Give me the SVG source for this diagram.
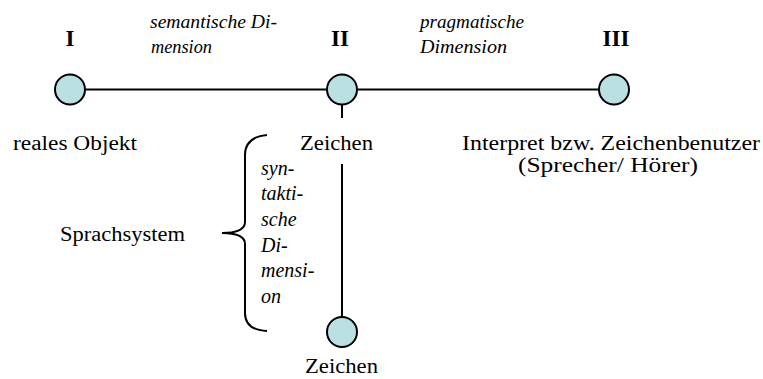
<svg xmlns="http://www.w3.org/2000/svg" width="763" height="379" viewBox="0 0 763 379">
<style>
.n{fill:#bbe0e3;stroke:#000;stroke-width:2}
.l{stroke:#000;stroke-width:2;fill:none}
text{font-family:'Liberation Serif','DejaVu Serif','Times New Roman',serif;fill:#000}
.t{font-size:20px}
.i{font-size:19px;font-style:italic}
.v{font-size:20px;font-style:italic}
.b{font-size:23px;font-weight:bold}
</style>
<rect width="763" height="379" fill="#fff"/>
<g id="connectors">
<line class="l" x1="85" y1="89.5" x2="599" y2="89.5"/>
<line class="l" x1="342" y1="104" x2="342" y2="118"/>
<line class="l" x1="342" y1="164" x2="342" y2="317"/>
<path class="l" d="M267,135 Q245,137 245,155 L245,222 Q245,233 222,233 Q245,233 245,244 L245,313 Q245,330 267,331"/>
</g>
<g id="node-I"><circle class="n" cx="70" cy="89.5" r="15"/><text class="b" x="70" y="46" text-anchor="middle">I</text><text class="t" x="13" y="150" textLength="124" lengthAdjust="spacingAndGlyphs">reales Objekt</text></g>
<g id="node-II"><circle class="n" cx="342" cy="89.5" r="15"/><text class="b" x="340" y="46" text-anchor="middle">II</text><text class="t" x="300" y="150" textLength="73" lengthAdjust="spacingAndGlyphs">Zeichen</text></g>
<g id="node-III"><circle class="n" cx="614" cy="89.5" r="15"/><text class="b" x="616" y="46" text-anchor="middle">III</text><text class="t" x="462" y="150" textLength="298" lengthAdjust="spacingAndGlyphs">Interpret bzw. Zeichenbenutzer</text><text class="t" x="518" y="172" textLength="180" lengthAdjust="spacingAndGlyphs">(Sprecher/ Hörer)</text></g>
<g id="node-zeichen2"><circle class="n" cx="342" cy="332" r="15"/><text class="t" x="305" y="373" textLength="73" lengthAdjust="spacingAndGlyphs">Zeichen</text></g>
<g id="labels">
<text class="i" x="150" y="28" textLength="127" lengthAdjust="spacingAndGlyphs">semantische Di-</text>
<text class="i" x="151" y="53" textLength="61" lengthAdjust="spacingAndGlyphs">mension</text>
<text class="i" x="420" y="28" textLength="104" lengthAdjust="spacingAndGlyphs">pragmatische</text>
<text class="i" x="420" y="53" textLength="87" lengthAdjust="spacingAndGlyphs">Dimension</text>
<text class="v" x="261" y="175">syn-</text>
<text class="v" x="261" y="200">takti-</text>
<text class="v" x="261" y="226">sche</text>
<text class="v" x="261" y="252">Di-</text>
<text class="v" x="261" y="277">mensi-</text>
<text class="v" x="261" y="303">on</text>
<text class="t" x="60" y="241" textLength="125" lengthAdjust="spacingAndGlyphs">Sprachsystem</text>
</g>
</svg>
